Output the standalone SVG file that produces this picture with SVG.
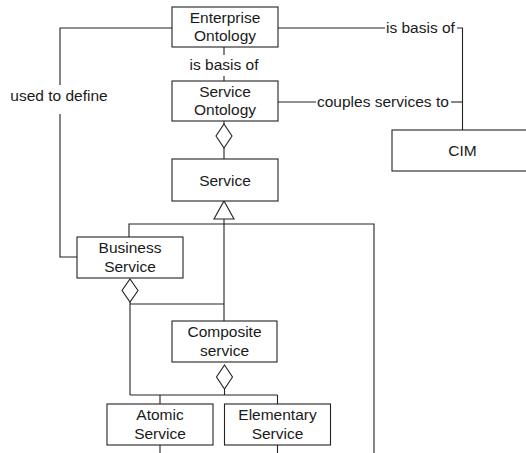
<svg xmlns="http://www.w3.org/2000/svg" width="526" height="453" viewBox="0 0 526 453">
  <style>
    .box { fill: #fff; stroke: #222; stroke-width: 1.1; }
    .ln { fill: none; stroke: #222; stroke-width: 1.1; }
    .head { fill: #fff; stroke: #222; stroke-width: 1.1; }
    text { font-family: "Liberation Sans", Arial, sans-serif; font-size: 15.5px; fill: #1a1a1a; }
    .c { text-anchor: middle; }
  </style>
  <rect width="526" height="453" fill="#fff"/>

  <!-- connectors -->
  <g id="connectors">
    <!-- Enterprise Ontology -> Service Ontology -->
    <line class="ln" x1="224" y1="47" x2="224" y2="55"/>
    <line class="ln" x1="224" y1="76" x2="224" y2="82"/>
    <text class="c" x="224" y="69.5">is basis of</text>

    <!-- Enterprise Ontology -> CIM -->
    <polyline class="ln" points="278,28 385,28"/>
    <polyline class="ln" points="457,28 462.5,28 462.5,130"/>
    <text x="386" y="32.5">is basis of</text>

    <!-- Service Ontology -> CIM -->
    <polyline class="ln" points="278,102 316,102"/>
    <polyline class="ln" points="451,102 462.5,102"/>
    <text x="317" y="107">couples services to</text>

    <!-- Enterprise Ontology -> Business Service -->
    <polyline class="ln" points="172,28 60,28 60,85"/>
    <polyline class="ln" points="60,114 60,257 77,257"/>
    <text class="c" x="59" y="101">used to define</text>

    <!-- Service Ontology aggregates Service -->
    <line class="ln" x1="224" y1="121" x2="224" y2="124"/>
    <polygon class="head" points="224,124 232,136 224,148 216,136"/>
    <line class="ln" x1="224" y1="148" x2="224" y2="159"/>

    <!-- generalization to Service -->
    <polygon class="head" points="224,201 234,219 214,219"/>
    <line class="ln" x1="224" y1="219" x2="224" y2="321"/>
    <polyline class="ln" points="129,237 129,224 374,224 374,453"/>

    <!-- Business Service aggregates -->
    <polygon class="head" points="130,279 138,290.5 130,302 122,290.5"/>
    <polyline class="ln" points="130,302 130,395"/>
    <line class="ln" x1="130" y1="304" x2="224" y2="304"/>

    <!-- Composite service aggregates -->
    <polygon class="head" points="224.5,365 232.5,377 224.5,389 216.5,377"/>
    <line class="ln" x1="224.5" y1="389" x2="224.5" y2="395"/>
    <line class="ln" x1="130" y1="395" x2="277.5" y2="395"/>
    <line class="ln" x1="160" y1="395" x2="160" y2="404"/>
    <line class="ln" x1="277.5" y1="395" x2="277.5" y2="404"/>

    <!-- continuing lines below the leaf boxes -->
    <line class="ln" x1="160" y1="445" x2="160" y2="453"/>
    <line class="ln" x1="277.5" y1="445" x2="277.5" y2="453"/>
  </g>

  <g id="enterprise-ontology">
    <rect class="box" x="172" y="7" width="106" height="40"/>
    <text class="c" x="225" y="23">Enterprise</text>
    <text class="c" x="225" y="41">Ontology</text>
  </g>

  <g id="service-ontology">
    <rect class="box" x="172" y="81" width="106" height="40"/>
    <text class="c" x="225" y="96.5">Service</text>
    <text class="c" x="225" y="114.5">Ontology</text>
  </g>

  <g id="cim">
    <rect class="box" x="392" y="130" width="140" height="41"/>
    <text class="c" x="462.5" y="156">CIM</text>
  </g>

  <g id="service">
    <rect class="box" x="172" y="159" width="106" height="42"/>
    <text class="c" x="225" y="185.5">Service</text>
  </g>

  <g id="business-service">
    <rect class="box" x="77" y="237" width="106" height="41"/>
    <text class="c" x="130" y="253">Business</text>
    <text class="c" x="130" y="271.5">Service</text>
  </g>

  <g id="composite-service">
    <rect class="box" x="172" y="321" width="105" height="41"/>
    <text class="c" x="224.5" y="337">Composite</text>
    <text class="c" x="224.5" y="355.5">service</text>
  </g>

  <g id="atomic-service">
    <rect class="box" x="107" y="404" width="106" height="41"/>
    <text class="c" x="160" y="420">Atomic</text>
    <text class="c" x="160" y="438.5">Service</text>
  </g>

  <g id="elementary-service">
    <rect class="box" x="224.5" y="404" width="106" height="41"/>
    <text class="c" x="277.5" y="420">Elementary</text>
    <text class="c" x="277.5" y="438.5">Service</text>
  </g>
</svg>
